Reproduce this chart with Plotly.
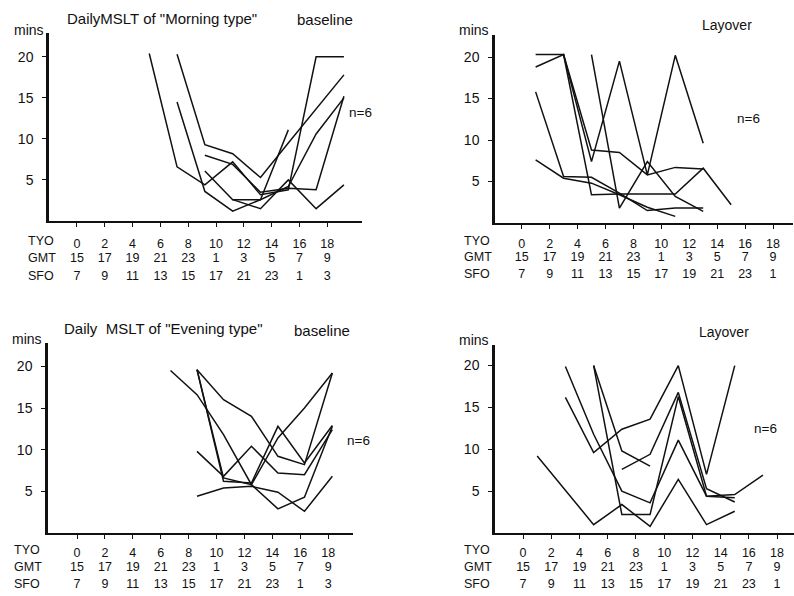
import plotly.graph_objects as go

W, H = 794, 596

# Clock-time labels under each even Tokyo hour
tyo_hours = [0, 2, 4, 6, 8, 10, 12, 14, 16, 18]
tyo_labels = [str(h) for h in tyo_hours]
gmt_labels = ["15", "17", "19", "21", "23", "1", "3", "5", "7", "9"]
sfo_labels_baseline = ["7", "9", "11", "13", "15", "17", "21", "23", "1", "3"]
sfo_labels_layover = ["7", "9", "11", "13", "15", "17", "19", "21", "23", "1"]
mins_ticks = [5, 10, 15, 20]

# Morning type, baseline: (TYO hour, sleep latency in mins) per subject
morning_baseline = [
    ([5.2, 7.2, 9.2, 11.2, 13.2, 15.2, 17.2, 19.2], [20.4, 6.6, 4.4, 7.2, 3.2, 3.8, 20.0, 20.0]),
    ([7.2, 9.2, 11.2, 13.2, 15.2, 17.2, 19.2], [20.3, 9.3, 8.2, 5.3, 9.5, 13.6, 17.8]),
    ([7.2, 9.2, 11.2, 13.2, 15.2], [14.5, 3.6, 1.2, 2.6, 11.1]),
    ([9.2, 11.2, 13.2, 15.2, 17.2, 19.2], [8.0, 6.9, 3.5, 4.0, 3.8, 15.2]),
    ([9.2, 11.2, 13.2, 15.2, 17.2, 19.2], [6.1, 2.6, 2.6, 4.2, 10.6, 15.0]),
    ([11.2, 13.2, 15.2, 17.2, 19.2], [2.6, 1.5, 5.0, 1.5, 4.4]),
]

# Morning type, layover
morning_layover = [
    ([1, 3, 5, 7, 9, 11, 13], [20.3, 20.3, 7.4, 19.5, 5.8, 20.2, 9.6]),
    ([1, 3, 5, 7, 9, 11, 13], [18.8, 20.3, 8.8, 8.5, 5.8, 6.7, 6.5]),
    ([3, 5, 7, 9, 11, 13, 15], [20.3, 3.4, 3.5, 3.5, 3.5, 6.6, 2.2]),
    ([5, 7, 9, 11, 13], [20.3, 1.8, 7.4, 3.2, 1.4]),
    ([1, 3, 5, 7, 9, 11, 13], [15.8, 5.6, 5.5, 3.6, 1.5, 1.8, 1.8]),
    ([1, 3, 5, 7, 9, 11], [7.6, 5.4, 4.8, 3.4, 1.9, 0.8]),
]

# Evening type, baseline
evening_baseline = [
    ([6.7, 8.6, 10.5, 12.5, 14.4, 16.3, 18.3], [19.5, 16.6, 11.8, 5.8, 2.9, 4.3, 12.8]),
    ([8.6, 10.5, 12.5, 14.4, 16.3, 18.3], [19.6, 16.0, 14.0, 9.2, 8.2, 19.2]),
    ([8.6, 10.5, 12.5, 14.4, 16.3, 18.3], [19.6, 6.6, 5.8, 11.4, 15.0, 19.2]),
    ([8.6, 10.5, 12.5, 14.4, 16.3, 18.3], [9.8, 6.8, 10.4, 7.2, 7.0, 12.4]),
    ([8.6, 10.5, 12.5, 14.4, 16.3, 18.3], [4.4, 5.4, 5.6, 4.9, 2.6, 6.8]),
    ([8.6, 10.5, 12.5, 14.4, 16.3, 18.3], [19.6, 6.2, 6.0, 12.8, 8.4, 12.9]),
]

# Evening type, layover
evening_layover = [
    ([1, 5, 7, 9, 11, 13, 15], [9.2, 1.0, 3.4, 0.8, 6.4, 1.0, 2.6]),
    ([3, 5, 7, 9, 11, 13, 15], [19.9, 11.8, 5.0, 3.6, 11.1, 4.4, 4.2]),
    ([3, 5, 7, 9, 11, 13, 15], [16.2, 9.6, 12.4, 13.6, 20.0, 7.0, 20.0]),
    ([5, 7, 9], [20.0, 9.8, 8.0]),
    ([5, 7, 9, 11, 13, 15, 17], [20.0, 2.2, 2.2, 16.3, 4.4, 4.6, 6.9]),
    ([7, 9, 11, 13, 15], [7.6, 9.4, 16.8, 5.3, 3.7]),
]

INK = "#111111"
FONT = "Liberation Sans, Arial, sans-serif"
TICK_FONT = dict(family=FONT, size=12.5, color=INK)

# Pixel frame of each panel: (left, right) and (bottom, top) of the axis lines,
# plus the centre line of the TYO / GMT / SFO label rows
panels = [
    dict(series=morning_baseline, px=(49, 362), py=(221, 33), xr=(-2.01, 20.5), yr=(0, 22.9),
         sfo=sfo_labels_baseline, rows_x=26, rows_y=(241, 258, 276)),
    dict(series=morning_layover, px=(495, 793), py=(223, 35), xr=(-1.91, 19.43), yr=(0, 22.65),
         sfo=sfo_labels_layover, rows_x=462, rows_y=(241, 257, 274)),
    dict(series=evening_baseline, px=(48, 353), py=(533, 343), xr=(-2.08, 19.78), yr=(0, 22.8),
         sfo=sfo_labels_baseline, rows_x=12, rows_y=(550, 567, 584)),
    dict(series=evening_layover, px=(495, 794), py=(533, 345), xr=(-1.99, 19.2), yr=(0, 22.46),
         sfo=sfo_labels_layover, rows_x=462, rows_y=(550, 567, 584)),
]

fig = go.Figure()
layout = {}
annotations = []


def ann(text, x, y, size=13, xanchor="left"):
    annotations.append(dict(text=text, x=x / W, y=1 - y / H, xref="paper", yref="paper",
                            xanchor=xanchor, yanchor="middle", showarrow=False,
                            font=dict(family=FONT, size=size, color=INK)))


extra = 5
for i, p in enumerate(panels, start=1):
    sx = "" if i == 1 else str(i)
    for hrs, mins in p["series"]:
        fig.add_trace(go.Scatter(x=hrs, y=mins, mode="lines", xaxis="x" + sx, yaxis="y" + sx,
                                 line=dict(color=INK, width=1.5), showlegend=False,
                                 hoverinfo="skip"))
    xdom = [p["px"][0] / W, p["px"][1] / W]
    base = p["py"][0]
    row0 = p["rows_y"][0] - base
    layout["xaxis" + sx] = dict(
        domain=xdom, range=list(p["xr"]), anchor="y" + sx,
        showline=True, linewidth=2, linecolor=INK, ticks="outside", ticklen=4, tickwidth=1.2,
        tickcolor=INK, tickvals=tyo_hours, ticktext=tyo_labels, showgrid=False, zeroline=False,
        tickfont=TICK_FONT, ticklabelstandoff=row0 - 14, fixedrange=True)
    layout["yaxis" + sx] = dict(
        domain=[1 - p["py"][0] / H, 1 - p["py"][1] / H], range=list(p["yr"]), anchor="x" + sx,
        showline=True, linewidth=2.5, linecolor=INK, ticks="outside", ticklen=4, tickwidth=1.2,
        tickcolor=INK, tickvals=mins_ticks, showgrid=False, zeroline=False,
        tickfont=dict(family=FONT, size=14, color=INK), ticklabelstandoff=6, fixedrange=True)
    # GMT and SFO label rows as extra x axes sharing the TYO scale
    for texts, ry in ((gmt_labels, p["rows_y"][1]), (p["sfo"], p["rows_y"][2])):
        name = f"x{extra}"
        layout[f"xaxis{extra}"] = dict(
            domain=xdom, range=list(p["xr"]), anchor="y" + sx, overlaying="x" + sx,
            side="bottom", showline=False, ticks="", tickvals=tyo_hours, ticktext=texts,
            showgrid=False, zeroline=False, tickfont=TICK_FONT,
            ticklabelstandoff=(ry - base) - 10, fixedrange=True)
        fig.add_trace(go.Scatter(x=[None], y=[None], xaxis=name, yaxis="y" + sx,
                                 showlegend=False, hoverinfo="skip"))
        extra += 1
    for label, ry in zip(["TYO", "GMT", "SFO"], p["rows_y"]):
        ann(label, p["rows_x"], ry, size=12.5)

# Panel headings and notes
ann("mins", 12, 30, size=14)
ann('DailyMSLT of "Morning type"', 65, 18, size=15)
ann("baseline", 295, 19, size=15)
ann("n=6", 347, 113, size=13.5)

ann("mins", 457, 30, size=14)
ann("Layover", 700, 25, size=14)
ann("n=6", 735, 118, size=13.5)

ann("mins", 10, 339, size=14)
ann('Daily  MSLT of "Evening type"', 62, 328, size=15)
ann("baseline", 292, 330, size=15)
ann("n=6", 345, 440, size=13.5)

ann("mins", 457, 340, size=14)
ann("Layover", 697, 332, size=14)
ann("n=6", 752, 428, size=13.5)

fig.update_layout(
    width=W, height=H, margin=dict(l=0, r=0, t=0, b=0),
    paper_bgcolor="white", plot_bgcolor="rgba(0,0,0,0)",
    annotations=annotations, **layout)

fig.write_html("out.html")
